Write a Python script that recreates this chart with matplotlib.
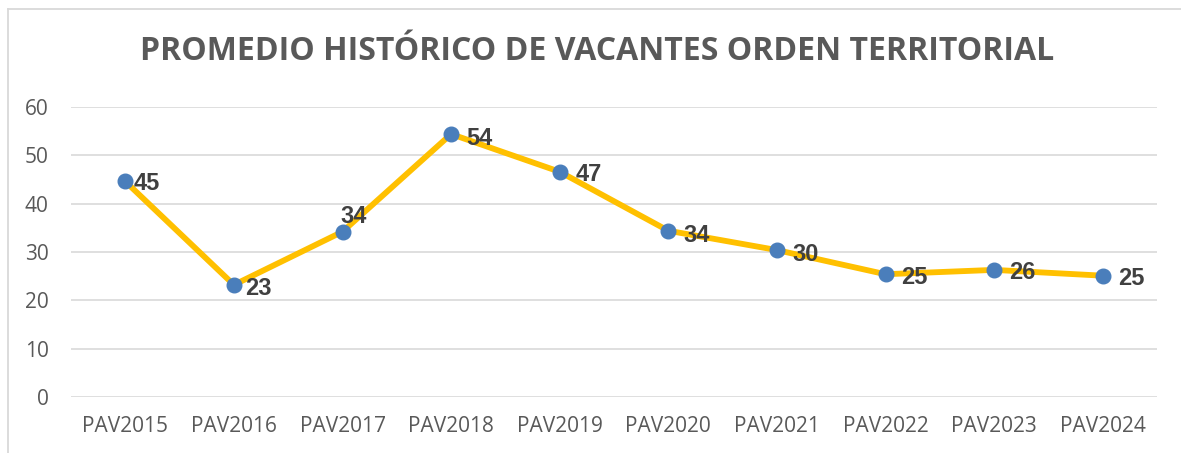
import matplotlib
matplotlib.use('Agg')
import matplotlib.pyplot as plt
from matplotlib.lines import Line2D

plt.rcParams['font.family'] = ['Open Sans', 'DejaVu Sans']

# data
years = ['PAV2015', 'PAV2016', 'PAV2017', 'PAV2018', 'PAV2019',
         'PAV2020', 'PAV2021', 'PAV2022', 'PAV2023', 'PAV2024']
promedio = [44.6, 23.2, 34.2, 54.4, 46.6, 34.4, 30.4, 25.4, 26.3, 25.1]
etiquetas = ['45', '23', '34', '54', '47', '34', '30', '25', '26', '25']
# label offsets (px) relative to the marker
offsets = [(8, -2), (11, -4), (-2, 15), (15, -4), (16, -3),
           (15, -5), (16, -4), (16, -3), (15, -3), (15, -3)]

W, H = 1181, 453
fig = plt.figure(figsize=(W / 100, H / 100), dpi=100)
ax = fig.add_axes([71 / W, 1 - 397 / H, 1086 / W, 290 / H])

x = list(range(len(years)))
ax.plot(x, promedio, color='#FFC000', lw=4.2, zorder=3,
        solid_capstyle='round', solid_joinstyle='round')
ax.plot(x, promedio, 'o', color='#4A7EBB', ms=10.5, zorder=4)

for xi, yi, lab, (dx, dy) in zip(x, promedio, etiquetas, offsets):
    ax.annotate(lab, (xi, yi), xytext=(dx * 0.72, dy * 0.72),
                textcoords='offset points', ha='left', va='center',
                fontsize=17, fontweight='bold', color='#404040',
                family=['Liberation Sans', 'DejaVu Sans'], zorder=5)

ax.set_xlim(-0.5, len(years) - 0.5)
ax.set_ylim(0, 60)
ax.set_yticks(range(0, 61, 10))
ax.set_xticks(x)
ax.set_xticklabels(years)
ax.grid(axis='y', color='#D9D9D9', lw=1.2)
ax.set_axisbelow(True)
for s in ax.spines.values():
    s.set_visible(False)
ax.tick_params(length=0, labelsize=15, colors='#595959')
ax.tick_params(axis='y', pad=16)
ax.tick_params(axis='x', pad=14)

fig.text(597 / W, 1 - 52 / H, 'PROMEDIO HISTÓRICO DE VACANTES ORDEN TERRITORIAL',
         ha='center', va='center', fontsize=23, fontweight='bold', color='#595959')

# chart border (left and top edges visible)
fig.add_artist(Line2D([7.5 / W, 7.5 / W], [0, 1 - 8.5 / H], transform=fig.transFigure,
                      color='#D9D9D9', lw=1.3))
fig.add_artist(Line2D([7.5 / W, 1], [1 - 8.5 / H, 1 - 8.5 / H], transform=fig.transFigure,
                      color='#D9D9D9', lw=1.3))

fig.savefig('out.png', dpi=100)
